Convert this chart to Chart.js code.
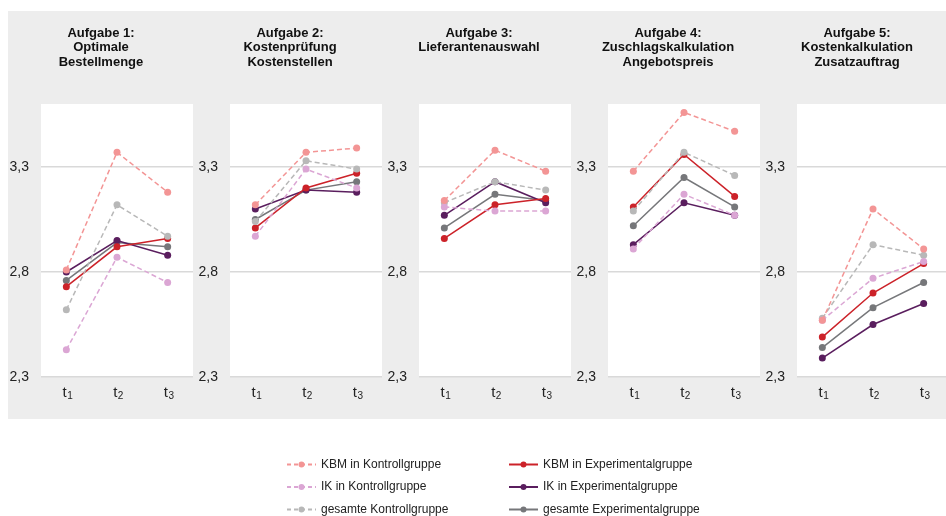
<!DOCTYPE html>
<html lang="de">
<head>
<meta charset="utf-8">
<script src="https://cdn.jsdelivr.net/npm/chart.js@4/dist/chart.umd.min.js"></script>
<style>
  html, body { margin: 0; padding: 0; background: #fff; width: 946px; height: 516px; overflow: hidden; }
  #panels { position: absolute; left: 8px; top: 11px; width: 945px; height: 408px; background: #ededed; }
  #panels canvas { position: absolute; top: 0; }
  #legende { position: absolute; left: 0; top: 419px; }
</style>
</head>
<body>
<div id="panels"></div>
<canvas id="legende" width="946" height="97"></canvas>
<script>
// Titel der fünf Aufgaben (eine Zeile pro Eintrag)
const aufgaben = [
    ['Aufgabe 1:', 'Optimale', 'Bestellmenge'],
    ['Aufgabe 2:', 'Kostenprüfung', 'Kostenstellen'],
    ['Aufgabe 3:', 'Lieferantenauswahl'],
    ['Aufgabe 4:', 'Zuschlagskalkulation', 'Angebotspreis'],
    ['Aufgabe 5:', 'Kostenkalkulation', 'Zusatzauftrag']
];
const zeitpunkte = ['t1', 't2', 't3'];
const yTicks = [2.3, 2.8, 3.3];
const yMin = 2.3;
const yMax = 3.6;

// Werte je Aufgabe: [t1, t2, t3]
const kbmKontroll = [[2.81, 3.37, 3.18], [3.12, 3.37, 3.39], [3.14, 3.38, 3.28], [3.28, 3.56, 3.47], [2.57, 3.10, 2.91]];
const ikKontroll = [[2.43, 2.87, 2.75], [2.97, 3.29, 3.20], [3.11, 3.09, 3.09], [2.91, 3.17, 3.07], [2.57, 2.77, 2.85]];
const gesamtKontroll = [[2.62, 3.12, 2.97], [3.04, 3.33, 3.29], [3.13, 3.23, 3.19], [3.09, 3.37, 3.26], [2.58, 2.93, 2.88]];
const kbmExperimental = [[2.73, 2.92, 2.96], [3.01, 3.20, 3.27], [2.96, 3.12, 3.15], [3.11, 3.36, 3.16], [2.49, 2.70, 2.84]];
const ikExperimental = [[2.80, 2.95, 2.88], [3.10, 3.19, 3.18], [3.07, 3.23, 3.13], [2.93, 3.13, 3.07], [2.39, 2.55, 2.65]];
const gesamtExperimental = [[2.76, 2.94, 2.92], [3.05, 3.19, 3.23], [3.01, 3.17, 3.14], [3.02, 3.25, 3.11], [2.44, 2.63, 2.75]];

const reihen = [
    { label: 'KBM in Kontrollgruppe', werte: kbmKontroll, farbe: '#f39595', gestrichelt: true },
    { label: 'IK in Kontrollgruppe', werte: ikKontroll, farbe: '#dba6d4', gestrichelt: true },
    { label: 'gesamte Kontrollgruppe', werte: gesamtKontroll, farbe: '#b8b8b8', gestrichelt: true },
    { label: 'KBM in Experimentalgruppe', werte: kbmExperimental, farbe: '#cc2229', gestrichelt: false },
    { label: 'IK in Experimentalgruppe', werte: ikExperimental, farbe: '#5a1e5e', gestrichelt: false },
    { label: 'gesamte Experimentalgruppe', werte: gesamtExperimental, farbe: '#76777a', gestrichelt: false }
];

const schrift = 'Arial, "Liberation Sans", Helvetica, sans-serif';

// weißer Plotbereich
const weissFlaeche = {
    id: 'weissFlaeche',
    beforeDraw(chart) {
        const a = chart.chartArea;
        const ctx = chart.ctx;
        ctx.save();
        ctx.fillStyle = '#ffffff';
        ctx.fillRect(a.left, a.top, a.right - a.left, a.bottom - a.top);
        ctx.restore();
    }
};

// x-Beschriftung t mit Index
const tIndex = {
    id: 'tIndex',
    afterDraw(chart) {
        const x = chart.scales.x;
        const ctx = chart.ctx;
        ctx.save();
        ctx.fillStyle = '#222';
        ctx.textBaseline = 'alphabetic';
        zeitpunkte.forEach((lab, i) => {
            const px = x.getPixelForTick(i);
            const y = chart.chartArea.bottom + 20;
            ctx.font = '15px ' + schrift;
            const w1 = ctx.measureText(lab[0]).width;
            ctx.font = '10px ' + schrift;
            const w2 = ctx.measureText(lab.slice(1)).width;
            const start = px - (w1 + w2) / 2 + 1;
            ctx.font = '15px ' + schrift;
            ctx.textAlign = 'left';
            ctx.fillText(lab[0], start, y);
            ctx.font = '10px ' + schrift;
            ctx.fillText(lab.slice(1), start + w1 + 0.5, y + 2);
        });
        ctx.restore();
    }
};

const panels = document.getElementById('panels');

aufgaben.forEach((titel, k) => {
    const cv = document.createElement('canvas');
    cv.width = 189;
    cv.height = 408;
    cv.style.left = (k * 189) + 'px';
    panels.appendChild(cv);

    new Chart(cv, {
        type: 'line',
        data: {
            labels: zeitpunkte,
            datasets: reihen.map(r => ({
                label: r.label,
                data: r.werte[k],
                borderColor: r.farbe,
                backgroundColor: r.farbe,
                pointBackgroundColor: r.farbe,
                pointBorderColor: r.farbe,
                borderWidth: 1.5,
                borderDash: r.gestrichelt ? [5, 3] : [],
                pointRadius: 3.5,
                pointBorderWidth: 0,
                tension: 0
            }))
        },
        options: {
            responsive: false,
            animation: false,
            layout: { padding: { left: 0, right: 3, top: 0, bottom: 0 } },
            plugins: {
                legend: { display: false },
                tooltip: { enabled: false },
                title: {
                    display: true,
                    text: titel,
                    color: '#111',
                    font: { family: schrift, size: 13, weight: 'bold', lineHeight: 1.12 },
                    padding: { top: 14.7, bottom: 93 - 14.7 - titel.length * 13 * 1.12 }
                }
            },
            scales: {
                x: {
                    offset: true,
                    grid: { display: false },
                    border: { display: false },
                    ticks: { display: false },
                    afterFit: s => { s.height = 42; }
                },
                y: {
                    min: yMin,
                    max: yMax,
                    grid: { color: '#d9d9d9', lineWidth: 1.5, drawTicks: false },
                    border: { display: false },
                    afterBuildTicks: s => { s.ticks = yTicks.map(v => ({ value: v })); },
                    afterFit: s => { s.width = 33; },
                    ticks: {
                        padding: 12,
                        color: '#222',
                        font: { family: schrift, size: 14 },
                        callback: v => v.toFixed(1).replace('.', ',')
                    }
                }
            }
        },
        plugins: [weissFlaeche, tIndex]
    });
});

// Legende in zwei Spalten
const legendeZeichnen = {
    id: 'legendeZeichnen',
    afterDraw(chart) {
        const ctx = chart.ctx;
        const spalten = [287, 509];
        const zeilen = [45.5, 68, 90.5];
        ctx.save();
        chart.data.datasets.forEach((ds, i) => {
            const x = spalten[Math.floor(i / 3)];
            const y = zeilen[i % 3];
            ctx.strokeStyle = ds.borderColor;
            ctx.fillStyle = ds.borderColor;
            ctx.lineWidth = 2;
            ctx.setLineDash(ds.borderDash);
            ctx.beginPath();
            ctx.moveTo(x, y);
            ctx.lineTo(x + 29, y);
            ctx.stroke();
            ctx.setLineDash([]);
            ctx.beginPath();
            ctx.arc(x + 14.5, y, 3, 0, Math.PI * 2);
            ctx.fill();
            ctx.fillStyle = '#222';
            ctx.font = '12px ' + schrift;
            ctx.textBaseline = 'middle';
            ctx.textAlign = 'left';
            ctx.fillText(ds.label, x + 34, y);
        });
        ctx.restore();
    }
};

new Chart(document.getElementById('legende'), {
    type: 'line',
    data: {
        labels: [],
        datasets: reihen.map(r => ({
            label: r.label,
            data: [],
            borderColor: r.farbe,
            borderDash: r.gestrichelt ? [4, 3] : []
        }))
    },
    options: {
        responsive: false,
        animation: false,
        plugins: { legend: { display: false }, tooltip: { enabled: false } },
        scales: { x: { display: false }, y: { display: false } }
    },
    plugins: [legendeZeichnen]
});
</script>
</body>
</html>
